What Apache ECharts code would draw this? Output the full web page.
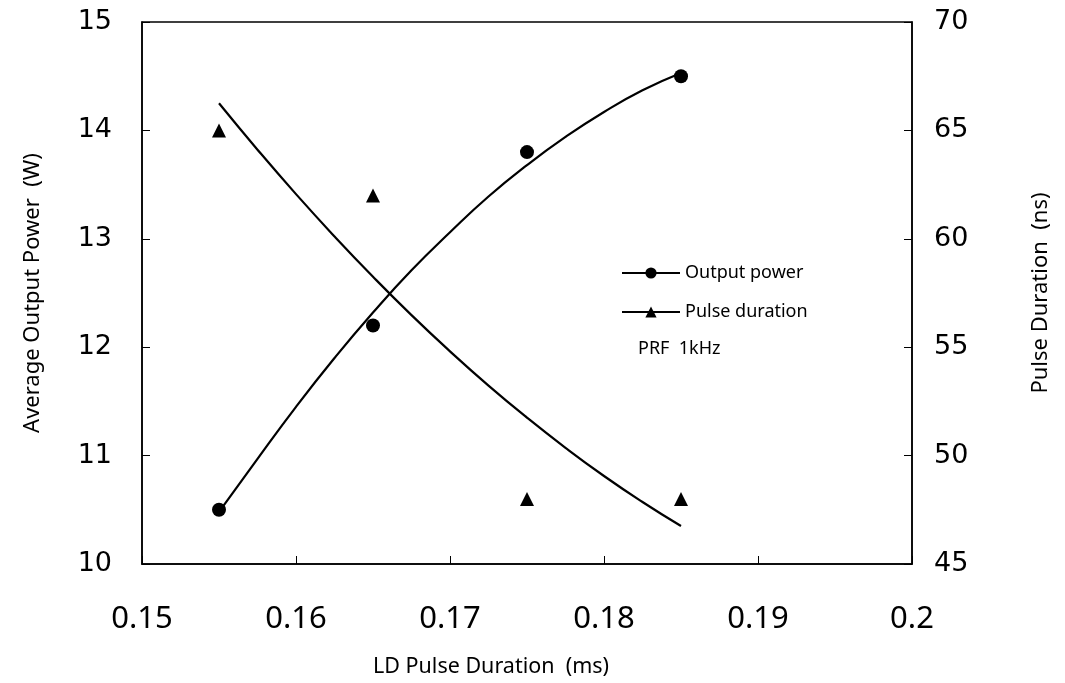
<!DOCTYPE html>
<html>
<head>
<meta charset="utf-8">
<script src="https://cdn.jsdelivr.net/npm/echarts@6/dist/echarts.min.js"></script>
<style>html,body{margin:0;padding:0;background:#fff}#c{width:1065px;height:683px}</style>
</head>
<body>
<div id="c"></div>
<script>
// measured points
const xPoints = [0.155, 0.165, 0.175, 0.185];
const powerPoints = [10.5, 12.2, 13.8, 14.5];
const pulsePoints = [65, 62, 48, 48];
// fitted curves
const xCurve = [0.155, 0.1575, 0.16, 0.1625, 0.165, 0.1675, 0.17, 0.1725, 0.175, 0.1775, 0.18, 0.1825, 0.185];
const powerCurve = [10.48, 10.97, 11.45, 11.90, 12.32, 12.71, 13.06, 13.39, 13.68, 13.94, 14.17, 14.37, 14.53];
const pulseCurve = [66.25, 64.11, 62.06, 60.11, 58.25, 56.48, 54.81, 53.23, 51.75, 50.36, 49.06, 47.86, 46.75];
const xTicks = [0.15, 0.16, 0.17, 0.18, 0.19, 0.2];

const zip = (a, b) => a.map((v, i) => [v, b[i]]);
const chart = echarts.init(document.getElementById('c'));
const tickFontL = {color: '#000', fontSize: 27, fontFamily: 'DejaVu Sans'};
chart.setOption({
  animation: false,
  backgroundColor: '#fff',
  grid: {left: 142, right: 153, top: 22, bottom: 110, show: true, borderColor: '#000', borderWidth: 1.5, containLabel: false},
  legend: {
    orient: 'vertical', left: 616, top: 259, itemGap: 21, itemWidth: 58, itemHeight: 14,
    data: ['Output power', 'Pulse duration'],
    textStyle: {fontSize: 18, color: '#000', fontFamily: 'Noto Sans'}
  },
  graphic: [{type: 'text', left: 638, top: 340, style: {text: 'PRF  1kHz', fontSize: 18, fill: '#000', fontFamily: 'Noto Sans'}}],
  xAxis: {
    type: 'value', min: 0.15, max: 0.2, interval: 0.01,
    axisLine: {lineStyle: {color: '#000', width: 1.5}},
    axisTick: {inside: true, length: 8, lineStyle: {color: '#000'}},
    splitLine: {show: false},
    axisLabel: {color: '#000', fontSize: 31, fontFamily: 'Noto Sans', margin: 40,
      formatter: v => xTicks.find(t => Math.abs(t - v) < 1e-9) !== undefined ? String(+v.toFixed(2)) : ''},
    name: 'LD Pulse Duration  (ms)', nameLocation: 'middle', nameGap: 92,
    nameTextStyle: {color: '#000', fontSize: 21.5, fontFamily: 'Noto Sans', padding: [0, 72, 0, 0]}
  },
  yAxis: [{
    type: 'value', min: 10, max: 15, interval: 1, position: 'left',
    axisLine: {show: true, lineStyle: {color: '#000', width: 1.5}},
    axisTick: {show: true, inside: true, length: 8, lineStyle: {color: '#000'}},
    splitLine: {show: false},
    axisLabel: Object.assign({margin: 30}, tickFontL),
    name: 'Average Output Power  (W)', nameLocation: 'middle', nameGap: 98, nameRotate: 90,
    nameTextStyle: {color: '#000', fontSize: 22, fontFamily: 'Noto Sans'}
  }, {
    type: 'value', min: 45, max: 70, interval: 5, position: 'right',
    axisLine: {show: true, lineStyle: {color: '#000', width: 1.5}},
    axisTick: {show: true, inside: true, length: 8, lineStyle: {color: '#000'}},
    splitLine: {show: false},
    axisLabel: Object.assign({margin: 22}, tickFontL),
    name: 'Pulse Duration  (ns)', nameLocation: 'middle', nameGap: 118, nameRotate: 90,
    nameTextStyle: {color: '#000', fontSize: 22, fontFamily: 'Noto Sans'}
  }],
  series: [
    {name: 'Output power', type: 'line', yAxisIndex: 0, smooth: true, showSymbol: false, symbol: 'circle', symbolSize: 14,
      data: zip(xCurve, powerCurve), lineStyle: {color: '#000', width: 2.2}, itemStyle: {color: '#000'}},
    {name: 'Pulse duration', type: 'line', yAxisIndex: 1, smooth: true, showSymbol: false, symbol: 'triangle', symbolSize: 14,
      data: zip(xCurve, pulseCurve), lineStyle: {color: '#000', width: 2.2}, itemStyle: {color: '#000'}},
    {name: 'powerPts', type: 'scatter', yAxisIndex: 0, symbol: 'circle', symbolSize: 14,
      data: zip(xPoints, powerPoints), itemStyle: {color: '#000', opacity: 1}},
    {name: 'pulsePts', type: 'scatter', yAxisIndex: 1, symbol: 'triangle', symbolSize: 14,
      data: zip(xPoints, pulsePoints), itemStyle: {color: '#000', opacity: 1}}
  ]
});
</script>
</body>
</html>
